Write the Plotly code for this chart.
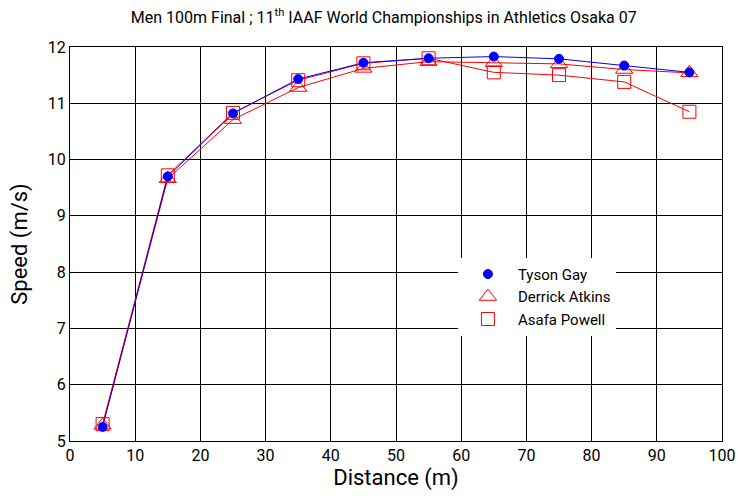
import plotly.graph_objects as go

distance = [5, 15, 25, 35, 45, 55, 65, 75, 85, 95]
gay = [5.25, 9.70, 10.82, 11.43, 11.72, 11.80, 11.83, 11.79, 11.67, 11.55]
atkins = [5.28, 9.66, 10.71, 11.28, 11.62, 11.74, 11.72, 11.70, 11.60, 11.54]
powell = [5.30, 9.72, 10.83, 11.41, 11.71, 11.80, 11.55, 11.50, 11.38, 10.85]

FONT = "Roboto, sans-serif"

fig = go.Figure()
series = [
    ("Asafa Powell", powell, "red", "square-open", 13),
    ("Derrick Atkins", atkins, "red", "triangle-up-open", 15),
    ("Tyson Gay", gay, "blue", "circle", 9),
]
# lines
for name, ys, col, sym, sz in series:
    fig.add_trace(go.Scatter(x=distance, y=ys, mode="lines", line=dict(color=col, width=1),
                             showlegend=False, hoverinfo="skip"))
# markers
for name, ys, col, sym, sz in series:
    fig.add_trace(go.Scatter(x=distance, y=ys, mode="markers", name=name,
                             marker=dict(symbol=sym, size=sz, color=col,
                                         line=dict(color=col, width=1))))

fig.update_layout(
    width=738, height=496,
    margin=dict(l=70, r=16, t=47, b=55, autoexpand=False),
    paper_bgcolor="white", plot_bgcolor="white",
    font=dict(family=FONT, color="black", size=16),
    title=dict(text="Men 100m Final ; 11<sup>th</sup> IAAF World Championships in Athletics Osaka 07",
               x=0.52, xanchor="center", y=0.965, yanchor="middle",
               font=dict(size=16, family=FONT)),
    legend=dict(x=0.595, y=0.465, xanchor="left", yanchor="top",
                bgcolor="white", borderwidth=0, traceorder="reversed",
                font=dict(size=15, family=FONT), tracegroupgap=0,
                itemwidth=50),
    showlegend=True,
)
fig.update_xaxes(range=[0, 100], dtick=10, showgrid=True, gridcolor="black", gridwidth=1,
                 showline=True, linecolor="black", linewidth=1, mirror=True,
                 ticks="inside", ticklen=5, tickcolor="black", zeroline=False,
                 automargin=False,
                 title=dict(text="Distance (m)", font=dict(size=22, family=FONT), standoff=4),
                 tickfont=dict(size=16))
fig.update_yaxes(range=[5, 12], dtick=1, showgrid=True, gridcolor="black", gridwidth=1,
                 showline=True, linecolor="black", linewidth=1, mirror=True,
                 ticks="inside", ticklen=5, tickcolor="black", zeroline=False,
                 automargin=False,
                 title=dict(text="Speed (m/s)", font=dict(size=22, family=FONT), standoff=14),
                 tickfont=dict(size=16))

fig.write_html("out.html")
